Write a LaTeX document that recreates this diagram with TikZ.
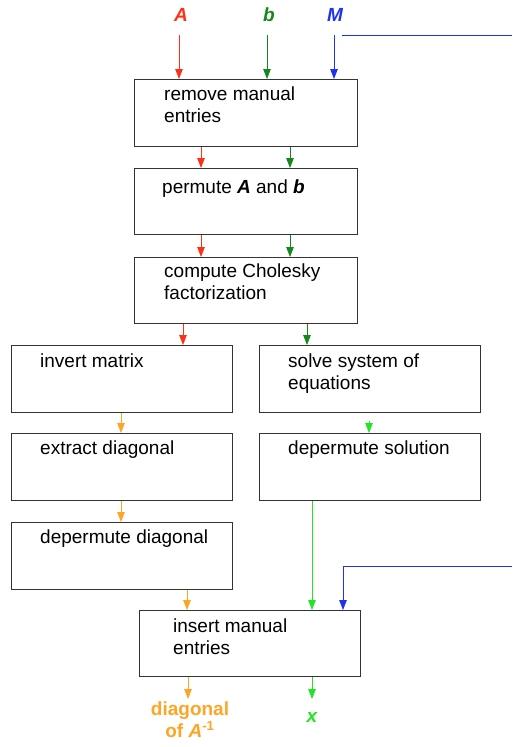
\documentclass[tikz,border=0pt]{standalone}
\usepackage{fontspec}
\setmainfont{Liberation Sans}
\usetikzlibrary{arrows.meta}
\definecolor{cred}{HTML}{FF3018}
\definecolor{cdg}{HTML}{14881A}
\definecolor{cblue}{HTML}{1E32F0}
\definecolor{corange}{HTML}{FFA525}
\definecolor{cbg}{HTML}{22E622}
\begin{document}
\begin{tikzpicture}[x=1pt,y=-1pt,
  box/.style={draw=black!80,line width=0.9pt,anchor=north west,inner sep=0pt},
  txt/.style={anchor=base west,inner sep=0pt,font=\fontsize{19}{22}\selectfont,align=left},
  arr/.style={line width=0.8pt,-{Triangle[length=10pt,width=7.5pt]}},
  lab/.style={inner sep=0pt,font=\fontsize{19}{22}\selectfont\bfseries\itshape}]
\useasboundingbox (0,0) rectangle (512,747);
% boxes
\node[box,minimum width=223pt,minimum height=67pt] (b1) at (134,79) {};
\node[box,minimum width=223pt,minimum height=66pt] (b2) at (134,168) {};
\node[box,minimum width=223pt,minimum height=66pt] (b3) at (134,257) {};
\node[box,minimum width=221pt,minimum height=67pt] (inv) at (11,345) {};
\node[box,minimum width=221pt,minimum height=67pt] (sol) at (259,345) {};
\node[box,minimum width=221pt,minimum height=67pt] (ext) at (11,433) {};
\node[box,minimum width=221pt,minimum height=67pt] (dsol) at (259,433) {};
\node[box,minimum width=221pt,minimum height=67pt] (ddia) at (11,522) {};
\node[box,minimum width=221pt,minimum height=66pt] (ins) at (139,610) {};
% texts (base west = baseline of last line)
\node[txt] (t1) at (164,122) {remove manual\\entries};
\node[txt] (t2) at (162,193) {permute \textbf{\textit{A}} and \textbf{\textit{b}}};
\node[txt] (t3) at (164,299) {compute Cholesky\\factorization};
\node[txt] (t4) at (40,367) {invert matrix};
\node[txt] (t5) at (288,389) {solve system of\\equations};
\node[txt] (t6) at (40,454) {extract diagonal};
\node[txt] (t7) at (288,454) {depermute solution};
\node[txt] (t8) at (40,543) {depermute diagonal};
\node[txt] (t9) at (173,654) {insert manual\\entries};
% labels
\node[lab,text=cred,anchor=base] (lA) at (181,21) {A};
\node[lab,text=cdg,anchor=base] (lb) at (269,21) {b};
\node[lab,text=cblue,anchor=base] (lM) at (335,21) {M};
\node[inner sep=0pt,anchor=base,align=center,text=corange,font=\fontsize{19}{22}\selectfont\bfseries] (ldiag) at (190,737) {diagonal\\of \textit{A}\textsuperscript{-1}};
\node[lab,text=cbg,anchor=base] (lx) at (312,722) {x};
% coordinates
\coordinate (xA) at (179,0);
\coordinate (xb) at (267,0);
\coordinate (xM) at (334,0);
\coordinate (xr1) at (201,0);
\coordinate (xg1) at (290,0);
\coordinate (xr2) at (183,0);
\coordinate (xg2) at (307,0);
\coordinate (xo1) at (121,0);
\coordinate (xo2) at (187,0);
\coordinate (xg3) at (369,0);
\coordinate (xg4) at (312,0);
\coordinate (xM2) at (343,0);
\coordinate (mtop) at (342,35);
\coordinate (mtopr) at (512,35);
\coordinate (mbot) at (343,566);
\coordinate (mbotr) at (512,566);
\coordinate (oend) at (188,699);
\coordinate (gend) at (312,699);
% arrows
\draw[arr,cred] (b1.north -| xA) ++(0,-44) -- (b1.north -| xA);
\draw[arr,cdg] (b1.north -| xb) ++(0,-44) -- (b1.north -| xb);
\draw[arr,cblue] (b1.north -| xM) ++(0,-44) -- (b1.north -| xM);
\draw[cblue,line width=0.8pt] (mtop) -- (mtopr);
\draw[arr,cred] (b1.south -| xr1) -- (b2.north -| xr1);
\draw[arr,cdg] (b1.south -| xg1) -- (b2.north -| xg1);
\draw[arr,cred] (b2.south -| xr1) -- (b3.north -| xr1);
\draw[arr,cdg] (b2.south -| xg1) -- (b3.north -| xg1);
\draw[arr,cred] (b3.south -| xr2) -- (inv.north -| xr2);
\draw[arr,cdg] (b3.south -| xg2) -- (sol.north -| xg2);
\draw[arr,corange] (inv.south -| xo1) -- (ext.north -| xo1);
\draw[arr,cbg] (dsol.north -| xg3) ++(0,-12) -- (dsol.north -| xg3);
\draw[arr,corange] (ext.south -| xo1) -- (ddia.north -| xo1);
\draw[arr,corange] (ddia.south -| xo2) -- (ins.north -| xo2);
\draw[arr,cbg] (dsol.south -| xg4) -- (ins.north -| xg4);
\draw[arr,cblue] (mbotr) -- (mbot) -- (ins.north -| xM2);
\draw[arr,corange] (ins.south -| oend) -- (oend);
\draw[arr,cbg] (ins.south -| gend) -- (gend);
\end{tikzpicture}
\end{document}
